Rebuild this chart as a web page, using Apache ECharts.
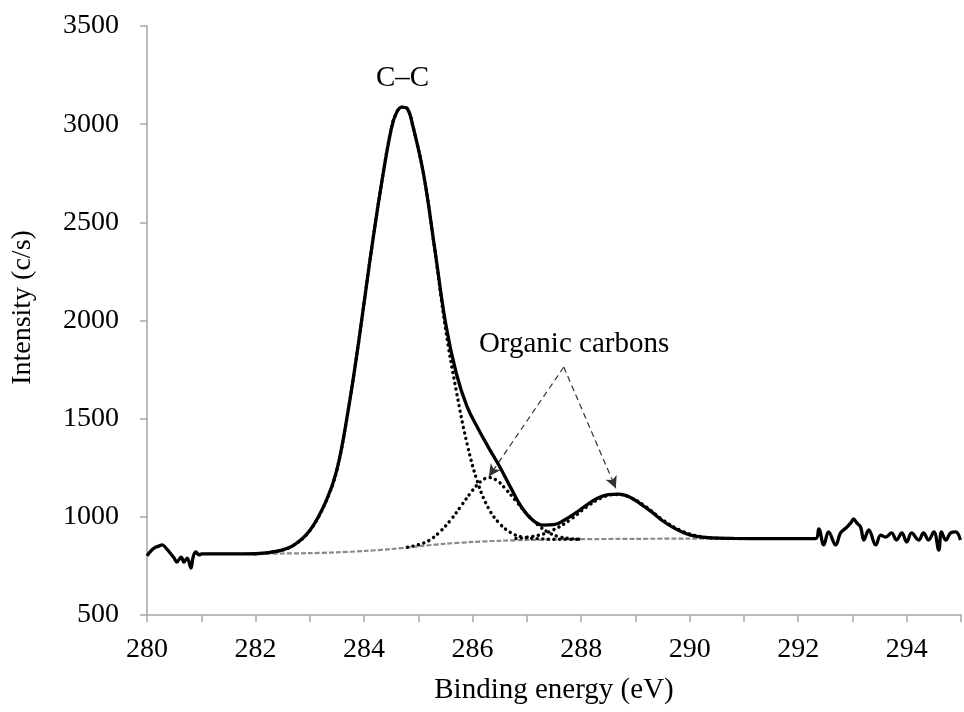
<!DOCTYPE html>
<html>
<head>
<meta charset="utf-8">
<script src="https://cdn.jsdelivr.net/npm/echarts@6/dist/echarts.min.js"></script>
<style>html,body{margin:0;padding:0;background:#fff}#c{width:964px;height:712px}</style>
</head>
<body>
<div id="c"></div>
<script>
// ---- data ----
const xTicks = [280, 282, 284, 286, 288, 290, 292, 294];
const yTicks = [500, 1000, 1500, 2000, 2500, 3000, 3500];

// measured envelope [binding energy eV, intensity c/s]
const envelope = [
  [280.00, 801], [280.04, 816], [280.13, 841], [280.22, 851], [280.28, 857], [280.35, 841],
  [280.41, 821], [280.50, 790], [280.55, 770], [280.63, 795], [280.68, 770], [280.74, 790],
  [280.81, 739], [280.85, 795], [280.90, 821], [280.96, 806], [281.01, 811], [281.50, 811],
  [282.00, 812], [282.40, 825], [282.70, 855], [283.00, 930], [283.30, 1080], [283.50, 1240],
  [283.70, 1530], [283.90, 1890], [284.10, 2290], [284.30, 2660], [284.50, 2975], [284.60, 3060],
  [284.70, 3087], [284.80, 3078], [284.90, 2990], [285.10, 2740], [285.30, 2370], [285.50, 1990],
  [285.70, 1730], [285.90, 1560], [286.10, 1450], [286.30, 1350], [286.50, 1255], [286.70, 1150],
  [286.90, 1050], [287.10, 985], [287.30, 958], [287.50, 960], [287.70, 985], [287.90, 1020],
  [288.10, 1060], [288.30, 1095], [288.50, 1113], [288.70, 1116], [288.90, 1100], [289.10, 1065],
  [289.30, 1025], [289.50, 980], [289.70, 945], [289.90, 918], [290.10, 902], [290.40, 893],
  [290.80, 890], [291.50, 889], [292.32, 889], [292.38, 938], [292.47, 857],
  [292.56, 923], [292.69, 857], [292.78, 918], [292.88, 943], [292.97, 969], [293.02, 989],
  [293.08, 969], [293.15, 948], [293.21, 882], [293.30, 933], [293.43, 857], [293.52, 907],
  [293.61, 897], [293.72, 918], [293.81, 882], [293.91, 918], [294.00, 872], [294.09, 918],
  [294.22, 882], [294.31, 918], [294.40, 882], [294.50, 923], [294.59, 831], [294.64, 923],
  [294.72, 882], [294.81, 918], [294.90, 923], [294.99, 882]
];

// fitted C–C component
const ccPeak = [
  [282.00, 812], [282.40, 825], [282.70, 855], [283.00, 930], [283.30, 1080], [283.50, 1240],
  [283.70, 1530], [283.90, 1890], [284.10, 2290], [284.30, 2660], [284.50, 2975], [284.60, 3060],
  [284.70, 3087], [284.80, 3078], [284.90, 2990], [285.10, 2740], [285.30, 2365], [285.50, 1960],
  [285.70, 1640], [285.90, 1370], [286.10, 1170], [286.30, 1040], [286.50, 965], [286.70, 920],
  [286.90, 898], [287.20, 889], [287.60, 886], [288.00, 886]
];

// fitted organic carbon components
const organicA = [
  [284.80, 845], [285.00, 858], [285.20, 880], [285.40, 925], [285.60, 985], [285.80, 1060],
  [286.00, 1135], [286.15, 1180], [286.30, 1200], [286.45, 1185], [286.60, 1145], [286.80, 1080],
  [287.00, 1015], [287.20, 960], [287.40, 920], [287.60, 898], [287.80, 889], [288.00, 886]
];
const organicB = [
  [286.80, 890], [287.20, 905], [287.50, 935], [287.80, 985], [288.10, 1050], [288.40, 1100],
  [288.65, 1114], [288.90, 1100], [289.20, 1050], [289.50, 985], [289.80, 935], [290.10, 905],
  [290.50, 891], [291.00, 889]
];

// background
const background = [
  [280.90, 811], [282.00, 812], [283.00, 815], [283.50, 819], [284.00, 826], [284.50, 836],
  [285.00, 850], [285.50, 863], [286.00, 872], [286.50, 878], [287.00, 882], [288.00, 886],
  [289.00, 888], [290.00, 889], [291.00, 890], [292.30, 890]
];

// annotations (data coordinates)
const arrowFrom = [287.68, 1763];
const arrowTargets = [[286.30, 1205], [288.64, 1145]];
const labelCC = { text: 'C–C', at: [284.71, 3235] };
const labelOrg = { text: 'Organic carbons', at: [287.87, 1880] };

// ---- chart ----
const FONT = "'Liberation Serif', 'Times New Roman', serif";
const chart = echarts.init(document.getElementById('c'), null, { renderer: 'canvas' });
const dotted = { color: '#000', width: 3.4, type: [0.1, 5.5], cap: 'round' };

chart.setOption({
  animation: false,
  backgroundColor: '#fff',
  grid: { left: 147, right: 2, top: 26, bottom: 97 },
  xAxis: {
    type: 'value', min: 280, max: 295, interval: 1,
    name: 'Binding energy (eV)', nameLocation: 'middle', nameGap: 61,
    nameTextStyle: { fontFamily: FONT, fontSize: 29, color: '#000' },
    axisLine: { lineStyle: { color: '#a6a6a6', width: 1.5 } },
    axisTick: { show: true, inside: false, length: 7, lineStyle: { color: '#a6a6a6', width: 1.5 } },
    axisLabel: {
      margin: 21, fontFamily: FONT, fontSize: 28, color: '#000',
      formatter: v => xTicks.indexOf(v) >= 0 ? String(v) : ''
    },
    splitLine: { show: false }
  },
  yAxis: {
    type: 'value', min: 500, max: 3500, interval: 500,
    name: 'Intensity (c/s)', nameLocation: 'middle', nameGap: 110,
    nameTextStyle: { fontFamily: FONT, fontSize: 28, color: '#000', padding: [0, 0, 0, 26] },
    axisLine: { show: true, lineStyle: { color: '#a6a6a6', width: 1.5 } },
    axisTick: { show: true, inside: false, length: 7, lineStyle: { color: '#a6a6a6', width: 1.5 } },
    axisLabel: {
      margin: 28, fontFamily: FONT, fontSize: 28, color: '#000',
      formatter: v => yTicks.indexOf(v) >= 0 ? String(v) : ''
    },
    splitLine: { show: false }
  },
  series: [
    {
      type: 'line', data: background, showSymbol: false, smooth: 0.3,
      lineStyle: { color: '#8a8a8a', width: 2.2, type: [5, 2] },
      z: 2,
      markLine: {
        silent: true, animation: false,
        symbol: ['none', 'arrow'], symbolSize: [9, 12],
        label: { show: false },
        lineStyle: { color: '#333', width: 1.2, type: [6, 4] },
        data: arrowTargets.map(t => [{ coord: arrowFrom }, { coord: t }])
      }
    },
    { type: 'line', data: ccPeak, showSymbol: false, smooth: 0.4, lineStyle: dotted, z: 3 },
    { type: 'line', data: organicA, showSymbol: false, smooth: 0.4, lineStyle: dotted, z: 3 },
    { type: 'line', data: organicB, showSymbol: false, smooth: 0.4, lineStyle: dotted, z: 3 },
    {
      type: 'line', data: envelope, showSymbol: false, smooth: 0.4,
      lineStyle: { color: '#000', width: 3.3 }, z: 5,
      markPoint: {
        silent: true, animation: false,
        symbol: 'circle', symbolSize: 1, itemStyle: { color: 'rgba(0,0,0,0)' },
        label: {
          show: true, position: 'inside', formatter: p => p.name,
          fontFamily: FONT, fontSize: 29, color: '#000', opacity: 1
        },
        data: [
          { coord: labelCC.at, name: labelCC.text },
          { coord: labelOrg.at, name: labelOrg.text }
        ]
      }
    }
  ]
});
</script>
</body>
</html>
